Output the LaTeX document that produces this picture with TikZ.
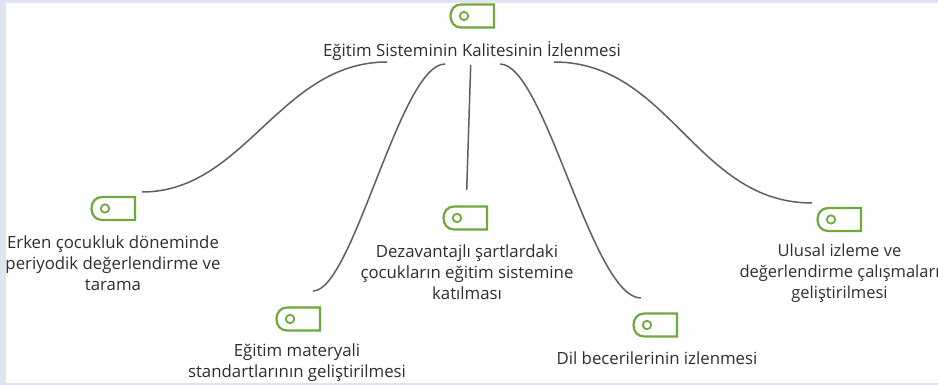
\documentclass[tikz,border=0pt]{standalone}
\usepackage{fontspec}
\setmainfont{Open Sans}
\definecolor{lavbg}{HTML}{DFE3F2}
\definecolor{taggreen}{HTML}{6FA83C}
\definecolor{linegray}{HTML}{5F5F5F}
\definecolor{txtgray}{HTML}{2E2E2E}
\tikzset{
  lbl/.style={align=center,inner sep=0pt,text=txtgray,font=\fontsize{16.8}{21}\selectfont},
  conn/.style={draw=linegray,line width=1.5pt},
  tagicon/.style={draw=taggreen,line width=2.2pt,line join=miter},
  tagdot/.style={draw=taggreen,line width=1.8pt,fill=white}
}
\newcommand{\tagat}[1]{%
  \draw[tagicon] ([shift={(-3,-11.5)}]#1) -- ([shift={(30,-11.5)}]#1) -- ([shift={(30,11.5)}]#1) -- ([shift={(-3,11.5)}]#1)
     .. controls ([shift={(-17,11.5)}]#1) and ([shift={(-17,-11.5)}]#1) .. cycle;
  \draw[tagdot] (#1) circle (4.2pt);
}
\begin{document}
\begin{tikzpicture}[x=1pt,y=-1pt]
\useasboundingbox (0,0) rectangle (938,385);
\fill[lavbg] (0,0) rectangle (938,385);
\fill[white] (6,3) rectangle (938,382.5);
\clip (0,0) rectangle (938,385);
% icon anchors
\coordinate (i0) at (464,16);
\coordinate (i1) at (105,208.5);
\coordinate (i2) at (290,319);
\coordinate (i3) at (457,218);
\coordinate (i4) at (647,325);
\coordinate (i5) at (831,219.5);
\tagat{i0}\tagat{i1}\tagat{i2}\tagat{i3}\tagat{i4}\tagat{i5}
% labels
\node[lbl] (root) at (472,51) {Eğitim Sisteminin Kalitesinin İzlenmesi};
\node[lbl] (erken) at (113,263) {Erken çocukluk döneminde\\periyodik değerlendirme ve\\tarama};
\node[lbl] (mater) at (297,362.5) {Eğitim materyali\\standartlarının geliştirilmesi};
\node[lbl] (dezav) at (467,272.5) {Dezavantajlı şartlardaki\\çocukların eğitim sistemine\\katılması};
\node[lbl] (dil) at (657,358) {Dil becerilerinin izlenmesi};
\node[lbl,font=\fontsize{16.5}{21}\selectfont] (ulusal) at (839.5,273.5) {Ulusal izleme ve\\değerlendirme çalışmaları\\geliştirilmesi};
% connector ends
\coordinate (s1) at (387,62); \coordinate (e1) at (142,192);
\coordinate (s2) at (445,64); \coordinate (e2) at (313,291);
\coordinate (s3) at (470.7,65); \coordinate (e3) at (466.7,190);
\coordinate (s4) at (500,64); \coordinate (e4) at (641,298);
\coordinate (s5) at (554,62); \coordinate (e5) at (812,203);
\draw[conn] (s1) .. controls (280,62) and (245,192) .. (e1);
\draw[conn] (s2) .. controls (400,64) and (353,291) .. (e2);
\draw[conn] (s3) -- (e3);
\draw[conn] (s4) .. controls (545,64) and (592,298) .. (e4);
\draw[conn] (s5) .. controls (670,62) and (696,203) .. (e5);
\end{tikzpicture}
\end{document}
